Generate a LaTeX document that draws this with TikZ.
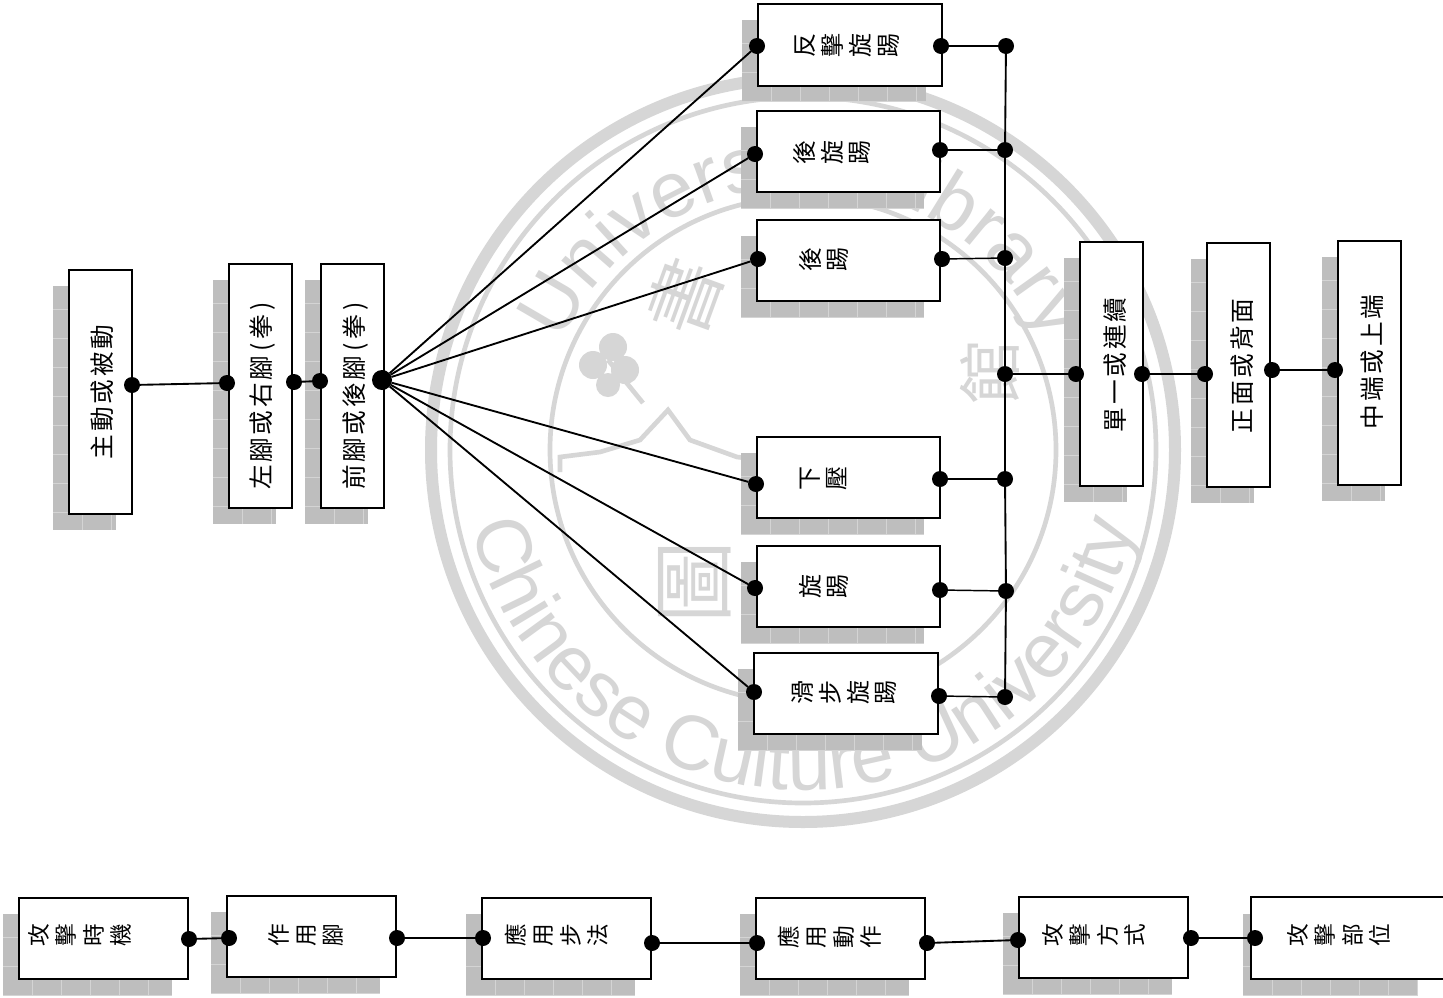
\documentclass[tikz,border=0pt]{standalone}
\usepackage{fontspec}
\usepackage{graphicx}
\usetikzlibrary{decorations.text}
\newfontfamily\cjk{Noto Sans CJK TC}
\newfontfamily\cjkls[LetterSpace=11]{Noto Sans CJK TC}
\newfontfamily\wmfont{Liberation Sans}
\definecolor{shadowgray}{HTML}{BEBEBE}
\definecolor{shadowline}{HTML}{D4D4D4}
\definecolor{wm}{HTML}{D6D6D6}
\tikzset{
  boxnode/.style={draw=black,fill=white,line width=1.7pt,inner sep=0pt,outer sep=0pt},
  dotnode/.style={circle,fill=black,draw=none,minimum size=12pt,inner sep=0pt,outer sep=0pt},
  hubnode/.style={dotnode,minimum size=15pt},
  conn/.style={line width=1.4pt,black},
  thin conn/.style={line width=1.1pt,black},
  wmring/.style={draw=wm,fill=none},
  txt/.style={inner sep=0pt,outer sep=0pt,black}
}
% one line of text, turned a quarter left
\newcommand{\turned}[1]{\rotatebox{90}{\fontsize{18.5}{18.5}\cjkls #1}}
% stacked characters, turned a quarter left: size, pitch, lines
\newcommand{\stacked}[3]{\rotatebox{90}{\fontsize{#1}{#2}\cjk\begin{tabular}{@{}c@{}}#3\end{tabular}}}
% #1 name, #2-#5 x1,y1,x2,y2 in pixels
\newcommand{\dbox}[5]{%
  \pgfmathsetmacro{\xa}{#2-16}\pgfmathsetmacro{\ya}{#3+16}%
  \pgfmathsetmacro{\xb}{#4-16}\pgfmathsetmacro{\yb}{#5+16}%
  \pgfmathsetmacro{\bw}{(#4-#2)*0.75}\pgfmathsetmacro{\bh}{(#5-#3)*0.75}%
  \fill[shadowgray] (\xa,\ya) rectangle (\xb,\yb);
  \begin{scope}
    \clip (\xa,\ya) rectangle (\xb,\yb);
    \foreach \k in {1,...,24}{
      \draw[shadowline,line width=0.5pt] (\xa+\k*29,\ya) -- (\xa+\k*29,\yb);
      \draw[shadowline,line width=0.5pt] (\xa,\ya+\k*29-6) -- (\xb,\ya+\k*29-6);
    }
  \end{scope}
  \node[boxnode,minimum width=\bw pt,minimum height=\bh pt] (#1) at ({(#2+#4)/2},{(#3+#5)/2}) {};
}
\begin{document}
\begin{tikzpicture}[x=0.75pt,y=-0.75pt]
\useasboundingbox (0,0) rectangle (1443,997);
\fill[white] (0,0) rectangle (1443,997);

% watermark seal
\begin{scope}[shift={(803,450)},y=0.75pt]
  \draw[wmring,line width=9pt] (0,0) circle[radius=372];
  \draw[wmring,line width=3.5pt] (0,0) circle[radius=353];
  \draw[wmring,line width=3.5pt] (0,0) circle[radius=253];
  \path[decorate,decoration={text along path,text align=center,
    text={|\fontsize{59}{59}\wmfont\color{wm}|University Library}}]
    (170:264) arc[start angle=170,end angle=10,radius=264];
  \path[decorate,decoration={text along path,text align=center,
    text={|\fontsize{58}{58}\wmfont\color{wm}|Chinese Culture University}}]
    (183:340) arc[start angle=183,end angle=357,radius=340];
  \node[text=wm,rotate=90,inner sep=0pt] (wmtu) at (-108,-132) {\fontsize{62}{62}\cjk 圖};
  \node[text=wm,rotate=70,inner sep=0pt] (wmshu) at (-118,153) {\fontsize{56}{56}\cjk 書};
  \node[text=wm,rotate=90,inner sep=0pt] (wmguan) at (187,78) {\fontsize{48}{48}\cjk 館};
  \draw[wm,line width=3.5pt] (-243,-22) -- (-243,-7) -- (-203,-2) -- (-163,10) -- (-135,40) -- (-113,10) -- (-66,-7) -- (-20,-12) -- (40,-25);
  \draw[wm,line width=3.5pt] (-195,90) -- (-160,47);
  \fill[wm] (-210,85) circle[radius=14] (-190,103) circle[radius=14] (-178,80) circle[radius=14] (-195,65) circle[radius=12];
\end{scope}

% left column
\dbox{mainbox}{69}{270}{132}{514}
\dbox{sidebox}{229}{264}{292}{508}
\dbox{frontbox}{321}{264}{384}{508}
\node[txt] (t1) at (102,392) {\turned{主動或被動}};
\node[txt] (t2) at (263,396) {\turned{左腳或右腳\,(\,拳\,)}};
\node[txt] (t3) at (355,396) {\turned{前腳或後腳\,(\,拳\,)}};

% technique column
\dbox{k1}{758}{4}{942}{86}
\dbox{k2}{757}{111}{940}{192}
\dbox{k3}{757}{220}{940}{301}
\dbox{k4}{757}{437}{940}{518}
\dbox{k5}{757}{546}{940}{627}
\dbox{k6}{754}{653}{938}{734}
\node[txt] (kt1) at (850,45) {\stacked{18}{20}{反\\擊\\旋\\踢}};
\node[txt] (kt2) at (835,152) {\stacked{18}{20}{後\\旋\\踢}};
\node[txt] (kt3) at (827,259) {\stacked{18}{20}{後\\踢}};
\node[txt] (kt4) at (827,478) {\stacked{18}{20}{下\\壓}};
\node[txt] (kt5) at (827,586) {\stacked{18}{20}{旋\\踢}};
\node[txt] (kt6) at (847,692) {\stacked{18}{20}{滑\\步\\旋\\踢}};

% right column
\dbox{contbox}{1080}{242}{1143}{486}
\dbox{facebox}{1207}{243}{1270}{487}
\dbox{levelbox}{1338}{241}{1401}{485}
\node[txt] (t4) at (1115,365) {\turned{單一或連續}};
\node[txt] (t5) at (1242,366) {\turned{正面或背面}};
\node[txt] (t6) at (1372,362) {\turned{中端或上端}};

% bottom row
\dbox{b1}{19}{898}{188}{979}
\dbox{b2}{227}{896}{396}{977}
\dbox{b3}{482}{898}{651}{979}
\dbox{b4}{756}{898}{925}{979}
\dbox{b5}{1019}{897}{1188}{978}
\fill[shadowgray] (1243,914) rectangle (1418,995);
\begin{scope}
  \clip (1243,914) rectangle (1418,995);
  \foreach \k in {1,...,6}{
    \draw[shadowline,line width=0.5pt] (1243+\k*29,914) -- (1243+\k*29,995);
    \draw[shadowline,line width=0.5pt] (1243,914+\k*29-6) -- (1418,914+\k*29-6);
  }
\end{scope}
\node[boxnode,minimum width=152pt,minimum height=61.5pt] (b6) at (1352,938) {};
\node[txt] (bt1) at (83,935) {\stacked{17}{20.5}{攻\\擊\\時\\機}};
\node[txt] (bt2) at (309,935) {\stacked{17}{20.5}{作\\用\\腳}};
\node[txt] (bt3) at (560,935) {\stacked{17}{20.5}{應\\用\\步\\法}};
\node[txt] (bt4) at (833,937) {\stacked{17}{20.5}{應\\用\\動\\作}};
\node[txt] (bt5) at (1097,935) {\stacked{17}{20.5}{攻\\擊\\方\\式}};
\node[txt] (bt6) at (1342,935) {\stacked{17}{20.5}{攻\\擊\\部\\位}};

% connection dots
\foreach \n/\x/\y in {
  a1/132/385,a2/227/383,a3/294/382,a4/320/381,
  f1/757/46,f2/755/154,f3/758/259,f4/756/484,f5/755/588,f6/754/692,
  r1/941/46,r2/940/150,r3/942/259,r4/940/479,r5/940/590,r6/939/696,
  s1/1006/46,s2/1005/150,s3/1005/258,s4/1005/374,s5/1005/479,s6/1006/591,s7/1005/697,
  c1/1076/374,c2/1142/374,c3/1205/374,c4/1272/370,c5/1335/370,
  d1/189/939,d2/229/938,d3/397/938,d4/483/938,d5/652/943,d6/757/943,d7/927/943,d8/1018/940,d9/1191/938,d10/1255/938}
  {\node[dotnode] (\n) at (\x,\y) {};}
\node[hubnode] (hub) at (382,380) {};

% connectors
\draw[conn] (a1)--(a2);
\draw[conn] (a3)--(a4);
\foreach \t in {f1,f2,f3,f4,f5,f6}{\draw[conn] (hub)--(\t);}
\draw[thin conn] (r1)--(s1);
\draw[thin conn] (r2)--(s2);
\draw[thin conn] (r3)--(s3);
\draw[thin conn] (r4)--(s5);
\draw[thin conn] (r5)--(s6);
\draw[thin conn] (r6)--(s7);
\draw[conn] (s1)--(s2);
\draw[conn] (s2)--(s3);
\draw[conn] (s3)--(s4);
\draw[conn] (s4)--(s5);
\draw[conn] (s5)--(s6);
\draw[conn] (s6)--(s7);
\draw[conn] (s4)--(c1);
\draw[conn] (c2)--(c3);
\draw[conn] (c4)--(c5);
\draw[conn] (d1)--(d2);
\draw[conn] (d3)--(d4);
\draw[conn] (d5)--(d6);
\draw[conn] (d7)--(d8);
\draw[conn] (d9)--(d10);
\end{tikzpicture}
\end{document}
